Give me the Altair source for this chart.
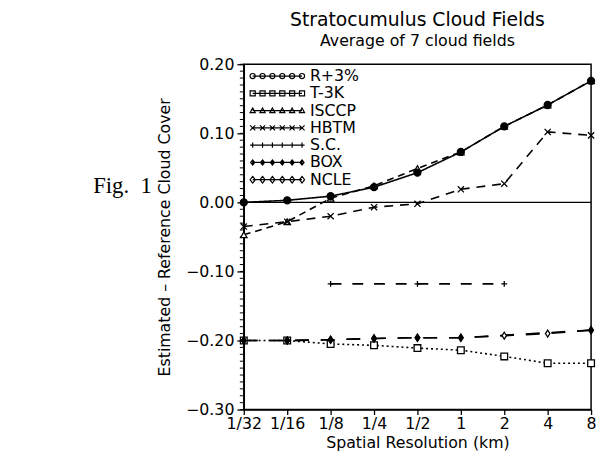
import json
import altair as alt
import pandas as pd

# ---- data ----
resolutions = ["1/32", "1/16", "1/8", "1/4", "1/2", "1", "2", "4", "8"]
series_names = ["R+3%", "T-3K", "ISCCP", "HBTM", "S.C.", "BOX", "NCLE"]

r_plus_3 = [0.000, 0.003, 0.009, 0.022, 0.043, 0.073, 0.110, 0.141, 0.176]
t_minus_3k = [-0.200, -0.200, -0.205, -0.207, -0.211, -0.214, -0.223, -0.233, -0.233]
isccp = [-0.047, -0.028, 0.006, 0.024, 0.049, 0.073, 0.110, 0.141, 0.176]
hbtm = [-0.035, -0.028, -0.020, -0.007, -0.002, 0.019, 0.027, 0.102, 0.097]
sc = [None, None, -0.118, None, -0.118, None, -0.118, None, None]
box = [-0.200, -0.200, -0.199, -0.197, -0.196, -0.196, None, None, -0.185]
ncle = [-0.200, -0.200, -0.199, -0.197, -0.196, -0.196, -0.193, -0.190, -0.185]

y_major_ticks = [-0.30, -0.20, -0.10, 0.00, 0.10, 0.20]
y_minor_ticks = [round(-0.30 + 0.01 * i, 2) for i in range(51)]

values = {
    "R+3%": r_plus_3, "T-3K": t_minus_3k, "ISCCP": isccp, "HBTM": hbtm,
    "S.C.": sc, "BOX": box, "NCLE": ncle,
}
draw_order = ["T-3K", "ISCCP", "HBTM", "S.C.", "NCLE", "BOX", "R+3%"]

rows = []
for s in draw_order:
    for i, v in enumerate(values[s]):
        if v is not None:
            rows.append({"series": s, "pos": i, "res": resolutions[i], "value": v})
df = pd.DataFrame(rows)

FONT = "DejaVu Sans"

# ---- styles ----
dash_range = [[1, 0], [2, 3], [7, 5], [9, 7], [11, 11], [14, 12], [14, 12]]
x_path = "M-1,-1L1,1M1,-1L-1,1"
plus_path = "M-1,0L1,0M0,-1L0,1"
diam_path = "M0,-1.3L0.85,0L0,1.3L-0.85,0Z"
shape_range = ["circle", "square", "triangle-up", x_path, plus_path, diam_path, diam_path]
size_range = [50, 28, 30, 36, 60, 40, 40]
fill_range = ["black", "white", "white", "black", "black", "black", "white"]

# legend symbols: a row of six small markers on a line
offs = [-12.5, -7.5, -2.5, 2.5, 7.5, 12.5]
r = 1.3
def row(fn):
    return "M-12.5,0L12.5,0" + "".join(fn(c) for c in offs)
leg_paths = [
    row(lambda c: f"M{c-r},0a{r},{r} 0 1,0 {2*r},0a{r},{r} 0 1,0 {-2*r},0"),
    row(lambda c: f"M{c-r},{-r}h{2*r}v{2*r}h{-2*r}Z"),
    row(lambda c: f"M{c},{-r}L{c+r},{0.8*r}L{c-r},{0.8*r}Z"),
    row(lambda c: f"M{c-r},{-r}L{c+r},{r}M{c+r},{-r}L{c-r},{r}"),
    row(lambda c: f"M{c-r},0L{c+r},0M{c},{-r}L{c},{r}"),
    row(lambda c: f"M{c},{-r}L{c+0.8*r},0L{c},{r}L{c-0.8*r},0Z M{c},{-r}L{c},{r}"),
    row(lambda c: f"M{c},{-1.3*r}L{c+r},0L{c},{1.3*r}L{c-r},0Z"),
]

x_scale = alt.Scale(domain=[0, 8], nice=False, zero=False)
y_scale = alt.Scale(domain=[-0.3, 0.2], nice=False, zero=False)

x_axis = alt.Axis(
    values=list(range(len(resolutions))),
    labelExpr=f"{json.dumps(resolutions)}[datum.value]",
    title="Spatial Resolution (km)",
    grid=False, tickSize=5, labelPadding=1, titlePadding=3,
    labelFont=FONT, labelFontSize=16, titleFont=FONT, titleFontSize=16,
    titleFontWeight="normal", labelColor="black", titleColor="black",
    domainColor="black", tickColor="black", domainWidth=1.5, tickWidth=1.3,
    labelOverlap=False, labelFlush=False,
)
y_axis = alt.Axis(
    values=y_major_ticks, format=".2f",
    title="Estimated  –  Reference  Cloud  Cover",
    grid=False, tickSize=7,
    labelPadding=3, titlePadding=13,
    labelFont=FONT, labelFontSize=16, titleFont=FONT, titleFontSize=16,
    titleFontWeight="normal", labelColor="black", titleColor="black",
    domainColor="black", tickColor="black", domainWidth=1.5, tickWidth=1.3,
    labelOverlap=False, labelFlush=False,
)

base = alt.Chart(df)

lines = base.mark_line(color="black", strokeWidth=1.6).encode(
    x=alt.X("pos:Q", scale=x_scale, axis=x_axis),
    y=alt.Y("value:Q", scale=y_scale, axis=y_axis),
    strokeDash=alt.StrokeDash("series:N", scale=alt.Scale(domain=series_names, range=dash_range), legend=None),
    detail="series:N",
)

points = base.mark_point(stroke="black", strokeWidth=1.3, opacity=1).encode(
    x=alt.X("pos:Q", scale=x_scale),
    y=alt.Y("value:Q", scale=y_scale),
    shape=alt.Shape("series:N", scale=alt.Scale(domain=series_names, range=shape_range), legend=None),
    size=alt.Size("series:N", scale=alt.Scale(domain=series_names, range=size_range), legend=None),
    fill=alt.Fill("series:N", scale=alt.Scale(domain=series_names, range=fill_range), legend=None),
)

legend_layer = base.mark_point(opacity=0).encode(
    x=alt.X("pos:Q", scale=x_scale),
    y=alt.Y("value:Q", scale=y_scale),
    shape=alt.Shape(
        "series:N",
        scale=alt.Scale(domain=series_names, range=leg_paths),
        legend=alt.Legend(
            title=None, orient="none", legendX=0, legendY=4,
            symbolSize=16, symbolOffset=26, labelOffset=25,
            symbolStrokeColor="black", symbolFillColor="transparent",
            symbolStrokeWidth=1.2, symbolOpacity=1,
            labelFont=FONT, labelFontSize=16, labelColor="black",
            rowPadding=1.5, padding=0,
        ),
    ),
)

zero_rule = alt.Chart(pd.DataFrame({"value": [0.0]})).mark_rule(color="black", strokeWidth=1.3).encode(
    y=alt.Y("value:Q", scale=y_scale)
)

minor = alt.Chart(pd.DataFrame({"value": y_minor_ticks})).mark_rule(color="black", strokeWidth=1).encode(
    y=alt.Y("value:Q", scale=y_scale),
    x=alt.value(-4), x2=alt.value(0),
)

fig_label = alt.Chart(pd.DataFrame({"t": ["Fig.\u00a0\u00a01"]})).mark_text(
    font="Liberation Serif", fontSize=23, color="black", align="center", baseline="middle"
).encode(x=alt.value(-123), y=alt.value(124), text="t:N")

chart = alt.layer(lines, zero_rule, minor, points, legend_layer, fig_label).resolve_scale(
    shape="independent", size="independent", fill="independent"
).properties(
    width=352, height=350,
    padding={"left": 239, "top": 54, "right": 6, "bottom": 40},
    autosize=alt.AutoSizeParams(type="none"),
    title=alt.TitleParams(
        "Stratocumulus Cloud Fields", subtitle="Average of 7 cloud fields",
        font=FONT, fontSize=19, fontWeight="normal", color="black",
        subtitleFont=FONT, subtitleFontSize=16, subtitleColor="black",
        anchor="middle", offset=8, subtitlePadding=3,
    ),
).configure_view(stroke="black", strokeWidth=1.5)

chart.save("out.html", embed_options={"renderer": "svg", "actions": False})
